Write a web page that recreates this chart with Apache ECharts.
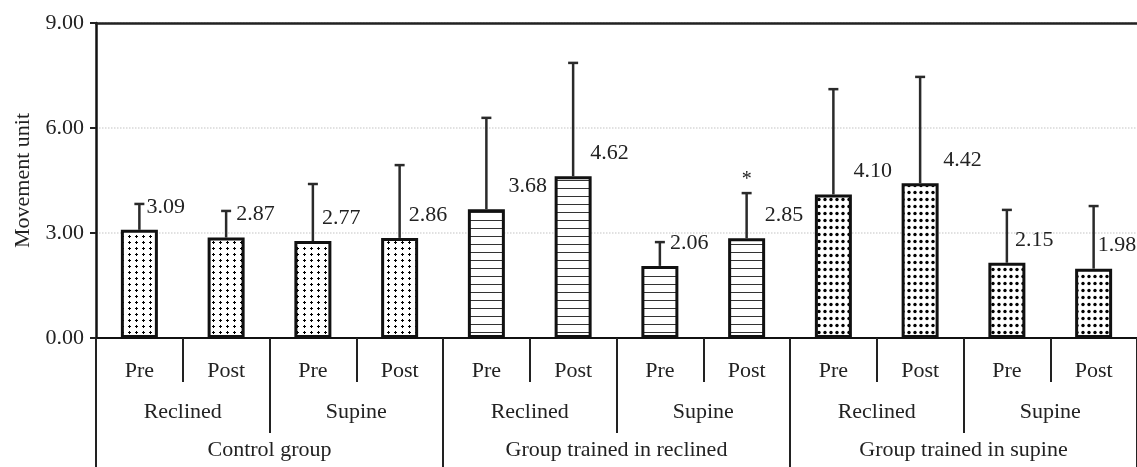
<!DOCTYPE html>
<html>
<head>
<meta charset="utf-8">
<script src="https://cdn.jsdelivr.net/npm/echarts@6/dist/echarts.min.js"></script>
<style>
  html, body { margin: 0; padding: 0; background: #fff; }
  #chart { width: 1137px; height: 467px; }
</style>
</head>
<body>
<div id="chart"></div>
<script>
// three levels of category labels
const phases = ["Pre", "Post", "Pre", "Post", "Pre", "Post", "Pre", "Post", "Pre", "Post", "Pre", "Post"];
const positions = ["Reclined", "Supine", "Reclined", "Supine", "Reclined", "Supine"];
const groups = ["Control group", "Group trained in reclined", "Group trained in supine"];

// means and standard deviations (upper error only)
const means = [3.09, 2.87, 2.77, 2.86, 3.68, 4.62, 2.06, 2.85, 4.10, 4.42, 2.15, 1.98];
const sds = [0.74, 0.76, 1.63, 2.08, 2.61, 3.24, 0.68, 1.29, 3.01, 3.04, 1.51, 1.79];
const marks = ["", "", "", "", "", "", "", "*", "", "", "", ""];
const yTicks = [0, 3, 6, 9];

// how far the value label starts right of the bar centre (px)
const labelShift = [7, 10, 9, 9, 22, 17, 10, 18, 20, 23, 8, 4];

const FONT = "Liberation Serif";
const FS = 22;

// fill patterns, one per group
function makePattern(kind) {
  const c = document.createElement("canvas");
  const ctx = c.getContext("2d");
  if (kind === "plus") {
    c.width = 7; c.height = 6;
    ctx.fillStyle = "#fff"; ctx.fillRect(0, 0, 7, 6);
    ctx.fillStyle = "#000";
    ctx.fillRect(3, 1, 1, 3);
    ctx.fillRect(2, 2, 3, 1);
  } else if (kind === "lines") {
    c.width = 8; c.height = 8;
    ctx.fillStyle = "#fff"; ctx.fillRect(0, 0, 8, 8);
    ctx.fillStyle = "#333";
    ctx.fillRect(0, 4, 8, 1);
  } else {
    c.width = 6; c.height = 7;
    ctx.fillStyle = "#fff"; ctx.fillRect(0, 0, 6, 7);
    ctx.fillStyle = "#000";
    ctx.beginPath();
    ctx.arc(3, 3.5, 1.7, 0, Math.PI * 2);
    ctx.fill();
  }
  return { image: c, repeat: "repeat" };
}
const patterns = [makePattern("plus"), makePattern("lines"), makePattern("dots")];

const BAR_W = 37;

const option = {
  animation: false,
  backgroundColor: "#fff",
  grid: { left: 96, right: 0, top: 23, bottom: 129, outerBoundsMode: "none" },
  xAxis: [
    {
      type: "category",
      data: phases,
      position: "bottom",
      axisLine: { show: true, lineStyle: { color: "#111", width: 2 } },
      axisTick: { show: true, interval: 0, length: 44, lineStyle: { color: "#222", width: 2 } },
      axisLabel: { interval: 0, margin: 22, fontSize: FS, fontFamily: FONT, color: "#222" }
    },
    {
      type: "category",
      data: positions,
      position: "bottom",
      axisLine: { show: false },
      axisTick: { show: true, interval: 0, length: 95, lineStyle: { color: "#222", width: 2 } },
      axisLabel: { interval: 0, margin: 63, fontSize: FS, fontFamily: FONT, color: "#222" }
    },
    {
      type: "category",
      data: groups,
      position: "bottom",
      axisLine: { show: false },
      axisTick: { show: true, interval: 0, length: 129, lineStyle: { color: "#222", width: 2 } },
      axisLabel: { interval: 0, margin: 101, fontSize: FS, fontFamily: FONT, color: "#222" }
    },
    {
      // top frame line
      type: "category",
      data: [""],
      position: "top",
      axisLine: { show: true, lineStyle: { color: "#222", width: 2.5 } },
      axisTick: { show: false },
      axisLabel: { show: false }
    }
  ],
  yAxis: {
    type: "value",
    min: yTicks[0],
    max: yTicks[yTicks.length - 1],
    interval: yTicks[1] - yTicks[0],
    name: "Movement unit",
    nameLocation: "middle",
    nameGap: 61,
    nameTextStyle: { fontSize: FS, fontFamily: FONT, color: "#222" },
    axisLine: { show: true, lineStyle: { color: "#111", width: 2.5 } },
    axisTick: { show: true, length: 6, lineStyle: { color: "#222", width: 2 } },
    axisLabel: { margin: 12, fontSize: FS, fontFamily: FONT, color: "#222", formatter: v => v.toFixed(2) },
    splitLine: { show: true, lineStyle: { color: "#d8d8d8", type: "dotted", width: 1.5 } }
  },
  series: [
    {
      type: "bar",
      xAxisIndex: 0,
      barWidth: BAR_W,
      z: 2,
      data: means.map((m, i) => ({
        value: m,
        itemStyle: { color: patterns[Math.floor(i / 4)], borderColor: "#111", borderWidth: 3 },
        label: { position: [BAR_W / 2 + labelShift[i], -23] }
      })),
      label: {
        show: true,
        align: "left",
        verticalAlign: "middle",
        fontSize: FS,
        fontFamily: FONT,
        color: "#222",
        formatter: p => p.value.toFixed(2)
      }
    },
    {
      type: "custom",
      xAxisIndex: 0,
      z: 3,
      data: means.map((m, i) => [i, m, m + sds[i], marks[i]]),
      encode: { x: 0, y: [1, 2] },
      renderItem(params, api) {
        const base = api.coord([api.value(0), api.value(1)]);
        const top = api.coord([api.value(0), api.value(2)]);
        const mark = marks[params.dataIndex];
        const style = { stroke: "#2a2a2a", lineWidth: 2.5 };
        const children = [
          { type: "line", shape: { x1: base[0], y1: base[1], x2: top[0], y2: top[1] }, style },
          { type: "line", shape: { x1: top[0] - 5, y1: top[1], x2: top[0] + 5, y2: top[1] }, style }
        ];
        if (mark) {
          children.push({
            type: "text",
            style: { text: mark, x: top[0], y: top[1] - 13, align: "center", verticalAlign: "middle",
                     fontSize: 20, fontFamily: FONT, fill: "#222" }
          });
        }
        return { type: "group", children };
      }
    }
  ]
};

const myChart = echarts.init(document.getElementById("chart"));
myChart.setOption(option);
window.addEventListener("resize", () => {
  myChart.resize();
});
</script>
</body>
</html>
